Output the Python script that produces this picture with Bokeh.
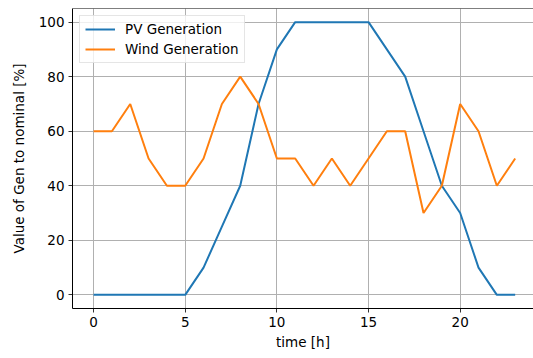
from bokeh.plotting import figure
from bokeh.models import Range1d, FixedTicker, Span, Legend, LegendItem
from bokeh.embed import file_html
from bokeh.resources import INLINE

hours = list(range(24))
pv_generation = [0, 0, 0, 0, 0, 0, 10, 25, 40, 70, 90, 100, 100, 100, 100, 100, 90, 80, 60, 40, 30, 10, 0, 0]
wind_generation = [60, 60, 70, 50, 40, 40, 50, 70, 80, 70, 50, 50, 40, 50, 40, 50, 60, 60, 30, 40, 70, 60, 40, 50]
x_ticks = [0, 5, 10, 15, 20]
y_ticks = [0, 20, 40, 60, 80, 100]

FONT = "DejaVu Sans"
FS = "13.5px"

p = figure(frame_width=461, frame_height=300, output_backend="svg", toolbar_location=None,
           x_range=Range1d(-1.15, 24.0), y_range=Range1d(-5, 105),
           x_axis_label="time [h]", y_axis_label="Value of Gen to nominal [%]",
           min_border_left=72, min_border_right=0, min_border_top=8, min_border_bottom=50)
p.outline_line_color = None
p.background_fill_color = "white"
p.border_fill_color = "white"

xa = p.below[0]
ya = p.left[0]
for ax in (xa, ya):
    ax.axis_line_color = "black"
    ax.axis_line_width = 1
    ax.major_tick_line_color = "black"
    ax.major_tick_line_width = 0.8
    ax.major_tick_in = 0
    ax.major_tick_out = 4
    ax.minor_tick_line_color = None
    ax.minor_tick_out = 0
    ax.major_label_text_font = FONT
    ax.major_label_text_font_size = FS
    ax.major_label_text_color = "black"
    ax.axis_label_text_font = FONT
    ax.axis_label_text_font_size = FS
    ax.axis_label_text_font_style = "normal"
    ax.axis_label_text_color = "black"
    ax.major_label_standoff = 4

xa.ticker = FixedTicker(ticks=x_ticks)
ya.ticker = FixedTicker(ticks=y_ticks)
xa.axis_label_standoff = 4
ya.axis_label_standoff = 9

p.xgrid.ticker = FixedTicker(ticks=x_ticks)
p.ygrid.ticker = FixedTicker(ticks=y_ticks)
for g in (p.xgrid, p.ygrid):
    g.grid_line_color = "#b0b0b0"
    g.grid_line_width = 1

# top frame border
p.add_layout(Span(location=105, dimension="width", line_color="black", line_width=1))

r_pv = p.line(hours, pv_generation, line_color="#1f77b4", line_width=2)
r_wind = p.line(hours, wind_generation, line_color="#ff7f0e", line_width=2)

legend = Legend(items=[LegendItem(label="PV Generation", renderers=[r_pv]),
                       LegendItem(label="Wind Generation", renderers=[r_wind])],
                location="top_left")
legend.margin = 7
legend.padding = 5
legend.spacing = 4
legend.glyph_width = 30
legend.glyph_height = 16
legend.label_height = 16
legend.label_standoff = 10
legend.label_text_font = FONT
legend.label_text_font_size = FS
legend.label_text_color = "black"
legend.border_line_color = "#cccccc"
legend.border_line_width = 1
legend.background_fill_alpha = 0.8
p.add_layout(legend)

open("out.html", "w").write(file_html(p, INLINE))
